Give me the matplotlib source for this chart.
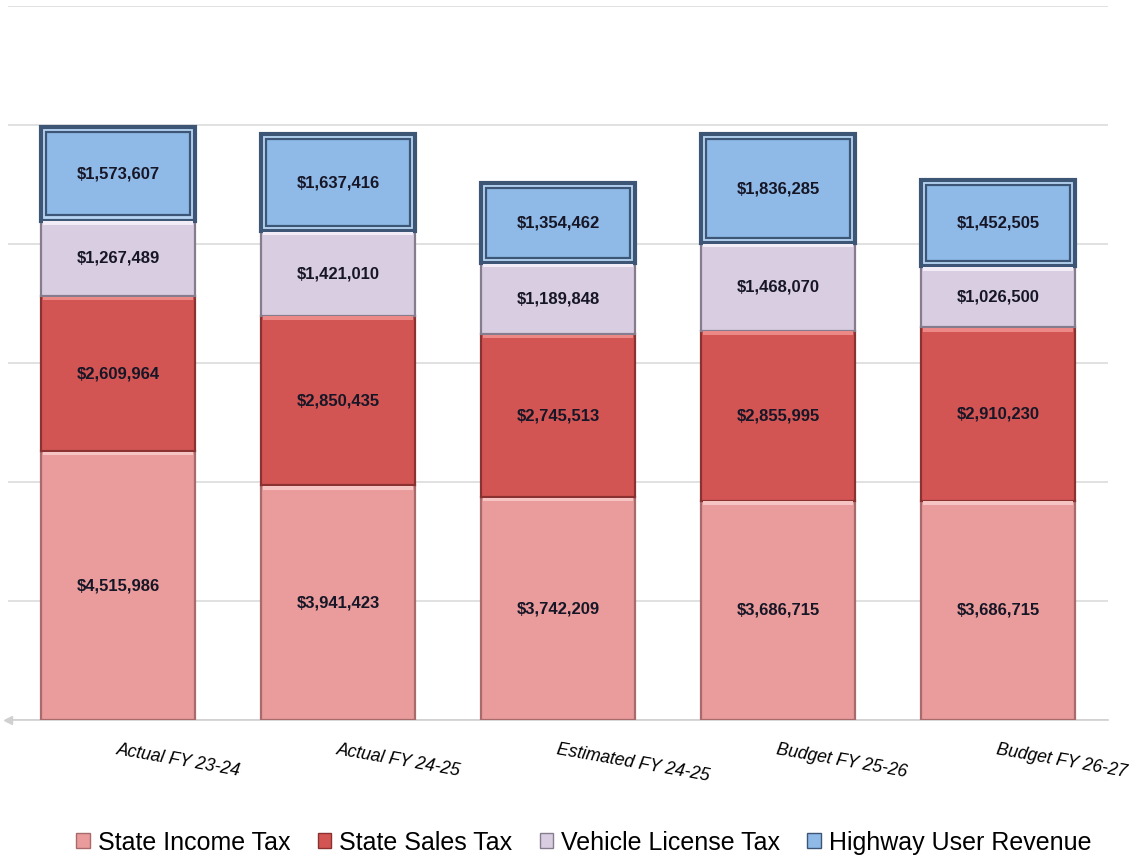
import matplotlib.pyplot as plt
from matplotlib.patches import Patch

plt.rcParams['font.family'] = ['Liberation Sans', 'DejaVu Sans']

categories = ['Actual FY 23-24', 'Actual FY 24-25', 'Estimated FY 24-25',
              'Budget FY 25-26', 'Budget FY 26-27']
income_tax = [4515986, 3941423, 3742209, 3686715, 3686715]
sales_tax = [2609964, 2850435, 2745513, 2855995, 2910230]
vehicle_tax = [1267489, 1421010, 1189848, 1468070, 1026500]
highway_rev = [1573607, 1637416, 1354462, 1836285, 1452505]

series = [
    ('State Income Tax', income_tax, '#e99c9b', '#a86a6a', '#f5c4c3'),
    ('State Sales Tax', sales_tax, '#d25553', '#8a3231', '#ec8886'),
    ('Vehicle License Tax', vehicle_tax, '#d9cde2', '#857c8e', '#f2ecf6'),
    ('Highway User Revenue', highway_rev, '#8fbae8', '#3d5676', '#b8d5f3'),
]

fig = plt.figure(figsize=(11.38, 8.59), dpi=100)
ax = fig.add_axes([0.007, 0.162, 0.9666, 0.831])

x = list(range(len(categories)))
width = 0.7
bottoms = [0] * len(categories)
for name, vals, face, edge, light in series:
    if name == 'Highway User Revenue':
        # double framed top block
        ax.bar(x, vals, width, bottom=bottoms, color=light, edgecolor=edge,
               linewidth=3, zorder=3)
        inset = 90000
        ax.bar(x, [v - 2 * inset for v in vals], width - 0.045,
               bottom=[b + inset for b in bottoms], color=face,
               edgecolor=edge, linewidth=1.6, zorder=4)
    else:
        ax.bar(x, vals, width, bottom=bottoms, color=face, edgecolor=edge,
               linewidth=1.6, zorder=3)
        # light bevel strip along the top of each block
        ax.bar(x, [60000] * len(vals), width - 0.02,
               bottom=[b + v - 70000 for b, v in zip(bottoms, vals)],
               color=light, linewidth=0, zorder=4)
    for xi, b, v in zip(x, bottoms, vals):
        ax.text(xi, b + v / 2, '${:,}'.format(v), ha='center', va='center',
                fontsize=12, fontweight='bold', color='#161626', zorder=5)
    bottoms = [b + v for b, v in zip(bottoms, vals)]

ax.set_xlim(-0.5, 4.5)
ax.set_ylim(0, 12000000)
ax.set_yticks(range(0, 12000001, 2000000))
ax.yaxis.grid(True, color='#dcdcdc', linewidth=1.2, zorder=0)
ax.set_axisbelow(True)
ax.tick_params(axis='y', left=False, labelleft=False)
ax.tick_params(axis='x', bottom=False, pad=12)
ax.set_xticks(x)
ax.set_xticklabels(categories, rotation=-10, ha='left', rotation_mode='anchor',
                   fontsize=12.7, fontstyle='italic')
for s in ['top', 'right', 'left']:
    ax.spines[s].set_visible(False)
ax.spines['bottom'].set_color('#d0d0d0')
ax.spines['bottom'].set_linewidth(1.2)
# small arrow head at the left end of the category axis
ax.plot(0, 0, marker='<', markersize=6, color='#d0d0d0',
        transform=ax.transAxes, clip_on=False, zorder=2)

handles = [Patch(facecolor=f, edgecolor=e, label=n) for n, _, f, e, _ in series]
fig.legend(handles=handles, loc='center', bbox_to_anchor=(0.513, 0.019),
           ncol=4, frameon=False, fontsize=18, handlelength=0.55,
           handleheight=0.55, handletextpad=0.3, columnspacing=1.1)

fig.savefig('out.png', dpi=100)
